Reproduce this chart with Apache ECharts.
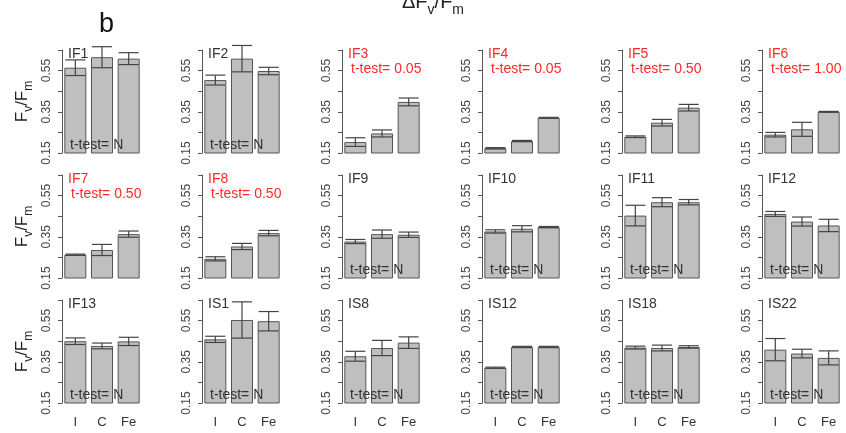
<!DOCTYPE html>
<html>
<head>
<meta charset="utf-8">
<script src="https://cdn.jsdelivr.net/npm/echarts@6/dist/echarts.min.js"></script>
<style>
  html, body { margin: 0; padding: 0; background: #ffffff; }
  #chart { width: 846px; height: 433px; }
</style>
</head>
<body>
<div id="chart"></div>
<script>
// Panel names, in reading order (3 rows x 6 columns)
const panels = ['IF1', 'IF2', 'IF3', 'IF4', 'IF5', 'IF6',
                'IF7', 'IF8', 'IF9', 'IF10', 'IF11', 'IF12',
                'IF13', 'IS1', 'IS8', 'IS12', 'IS18', 'IS22'];
// t-test result per panel ('N' = not significant)
const tTest = ['N', 'N', '0.05', '0.05', '0.50', '1.00',
               '0.50', '0.50', 'N', 'N', 'N', 'N',
               'N', 'N', 'N', 'N', 'N', 'N'];
// Treatments on the x axis
const treatments = ['I', 'C', 'Fe'];
// Mean Fv/Fm per treatment
const meanI  = [0.564, 0.504, 0.203, 0.173, 0.229, 0.239, 0.263, 0.243, 0.327, 0.376, 0.453, 0.461, 0.450, 0.459, 0.377, 0.321, 0.419, 0.409];
const meanC  = [0.615, 0.608, 0.245, 0.208, 0.297, 0.265, 0.286, 0.303, 0.363, 0.389, 0.518, 0.424, 0.427, 0.553, 0.417, 0.422, 0.417, 0.390];
const meanFe = [0.608, 0.548, 0.398, 0.321, 0.370, 0.350, 0.363, 0.368, 0.360, 0.397, 0.518, 0.405, 0.449, 0.547, 0.443, 0.422, 0.422, 0.369];
// Standard errors per treatment
const seI  = [0.038, 0.024, 0.021, 0.003, 0.004, 0.011, 0.003, 0.010, 0.010, 0.008, 0.050, 0.012, 0.016, 0.015, 0.024, 0.003, 0.007, 0.054];
const seC  = [0.051, 0.064, 0.017, 0.003, 0.016, 0.034, 0.027, 0.015, 0.020, 0.015, 0.022, 0.022, 0.014, 0.088, 0.037, 0.003, 0.014, 0.021];
const seFe = [0.029, 0.018, 0.019, 0.002, 0.016, 0.002, 0.015, 0.013, 0.013, 0.003, 0.013, 0.030, 0.020, 0.047, 0.028, 0.003, 0.006, 0.034];
// Y axis range and labelled ticks
const yMin = 0.15, yMax = 0.65, yStep = 0.1;
const yLabelled = [0.15, 0.35, 0.55];

const FONT = "'Liberation Sans', Arial, Helvetica, sans-serif";
const AXIS_GREY = '#555555';
const TEXT_GREY = '#333333';
const RED = '#ff2828';

const colLeft = [62, 202, 342, 482, 622, 762];
const rowTop = [50, 175, 300];
const gridW = 80, gridH = 103;

const grids = [], xAxes = [], yAxes = [], series = [];
const titles = [
  {
    text: '{a|\u0394F}{s|v}{a|/F}{s|m}',
    left: 402, top: -13, padding: 0,
    textStyle: {
      fontWeight: 'normal',
      rich: {
        a: { fontFamily: FONT, fontSize: 20, fontWeight: 'normal', color: '#222', lineHeight: 30, verticalAlign: 'middle' },
        s: { fontFamily: FONT, fontSize: 14, fontWeight: 'normal', color: '#222', lineHeight: 14, verticalAlign: 'bottom' }
      }
    }
  },
  {
    text: 'b', left: 99, top: 11, padding: 0,
    textStyle: { fontFamily: FONT, fontSize: 27, fontWeight: 'normal', color: '#111' }
  }
];

function errorBars(params, api) {
  const x = api.value(0), m = api.value(1), e = api.value(2);
  const hi = api.coord([x, m + e]);
  const lo = api.coord([x, m - e]);
  const half = 10;
  const st = { stroke: '#444444', lineWidth: 1.2 };
  return {
    type: 'group',
    children: [
      { type: 'line', shape: { x1: hi[0], y1: hi[1], x2: lo[0], y2: lo[1] }, style: st },
      { type: 'line', shape: { x1: hi[0] - half, y1: hi[1], x2: hi[0] + half, y2: hi[1] }, style: st },
      { type: 'line', shape: { x1: lo[0] - half, y1: lo[1], x2: lo[0] + half, y2: lo[1] }, style: st }
    ]
  };
}

panels.forEach((name, i) => {
  const r = Math.floor(i / 6), c = i % 6;
  const left = colLeft[c], top = rowTop[r];
  grids.push({ left: left, top: top, width: gridW, height: gridH, containLabel: false });

  xAxes.push({
    gridIndex: i, type: 'category', data: treatments,
    axisLine: { show: false }, axisTick: { show: false },
    axisLabel: {
      show: r === 2, margin: 13, fontFamily: FONT, fontSize: 13, color: TEXT_GREY
    }
  });

  yAxes.push({
    gridIndex: i, type: 'value', min: yMin, max: yMax, interval: yStep,
    splitLine: { show: false },
    axisLine: { show: true, lineStyle: { color: AXIS_GREY, width: 1 } },
    axisTick: { show: true, length: 4, lineStyle: { color: AXIS_GREY } },
    axisLabel: {
      rotate: 90, margin: 9, fontFamily: FONT, fontSize: 12, color: '#444',
      formatter: v => yLabelled.some(t => Math.abs(t - v) < 1e-6) ? v.toFixed(2) : ''
    },
    name: c === 0 ? '{a|F}{s|v}{a|/F}{s|m}' : '',
    nameLocation: 'middle', nameRotate: 90, nameGap: 27,
    nameTextStyle: {
      rich: {
        a: { fontFamily: FONT, fontSize: 17, color: '#222', lineHeight: 26, verticalAlign: 'middle' },
        s: { fontFamily: FONT, fontSize: 12, color: '#222', lineHeight: 12, verticalAlign: 'bottom' }
      }
    }
  });

  const means = [meanI[i], meanC[i], meanFe[i]];
  const ses = [seI[i], seC[i], seFe[i]];

  series.push({
    type: 'bar', xAxisIndex: i, yAxisIndex: i,
    data: means, barWidth: 22, clip: true,
    itemStyle: { color: '#bfbfbf', borderColor: AXIS_GREY, borderWidth: 1 },
    silent: true, animation: false
  });
  series.push({
    type: 'custom', xAxisIndex: i, yAxisIndex: i,
    data: means.map((m, k) => [k, m, ses[k]]),
    renderItem: errorBars, clip: false, silent: true, animation: false, z: 3
  });

  const sig = tTest[i] !== 'N';
  titles.push({
    text: name, left: left + 6, top: top - 3, padding: 0,
    textStyle: { fontFamily: FONT, fontSize: 14, fontWeight: 'normal', color: sig ? RED : TEXT_GREY }
  });
  if (sig) {
    titles.push({
      text: 't-test= ' + tTest[i], left: left + 9, top: top + 12, padding: 0,
      textStyle: { fontFamily: FONT, fontSize: 14, fontWeight: 'normal', color: RED }
    });
  } else {
    titles.push({
      text: 't-test= N', left: left + 8, top: top + 88, padding: 0, z: 10,
      textStyle: { fontFamily: FONT, fontSize: 14, fontWeight: 'normal', color: TEXT_GREY }
    });
  }
});

const chart = echarts.init(document.getElementById('chart'), null, { renderer: 'canvas' });
chart.setOption({
  backgroundColor: '#ffffff',
  animation: false,
  title: titles,
  grid: grids,
  xAxis: xAxes,
  yAxis: yAxes,
  series: series
});
</script>
</body>
</html>
